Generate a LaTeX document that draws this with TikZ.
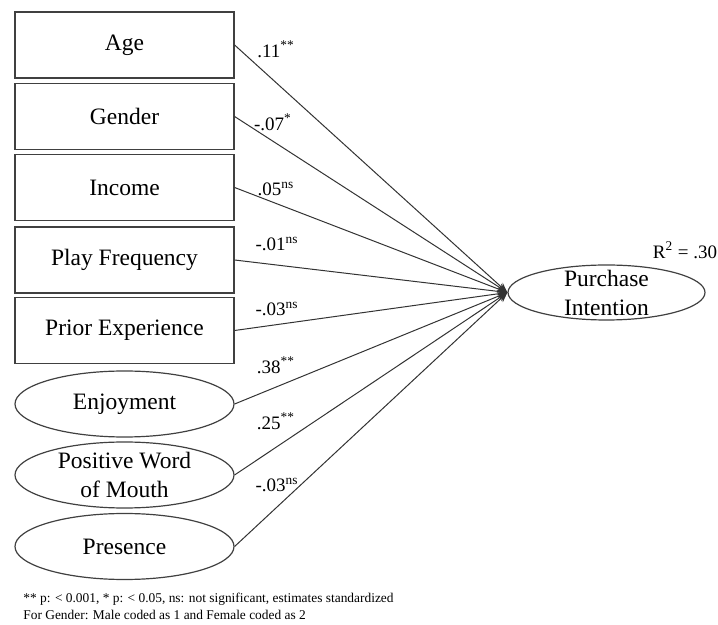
\documentclass[tikz,border=0pt]{standalone}
\usepackage{fontspec}
\setmainfont{Liberation Serif}
\usepackage{tikz}
\usetikzlibrary{shapes.geometric, arrows.meta}
\tikzstyle{observed} = [rectangle, draw=black!75, line width=0.6pt, minimum width=109.5pt, minimum height=33pt, inner sep=0pt, font=\fontsize{11.75}{14.5}\selectfont]
\tikzstyle{latent} = [ellipse, draw=black!75, line width=0.6pt, minimum width=109.5pt, minimum height=33pt, inner sep=0pt, inner ysep=-3pt, align=center, font=\fontsize{11.75}{14.5}\selectfont]
\tikzstyle{effect} = [draw=black!80, line width=0.5pt, -{Stealth[length=5pt,width=4pt]}]
\tikzstyle{coef} = [inner sep=0pt, font=\fontsize{9.5}{11}\selectfont]

\begin{document}
\begin{tikzpicture}[x=0.5pt, y=-0.5pt]
\useasboundingbox (0,0) rectangle (718,625);
\node [observed] (age) at (124.5, 45) {Age};
\node [observed] (gender) at (124.5, 116.5) {Gender};
\node [observed] (income) at (124.5, 187.5) {Income};
\node [observed] (play) at (124.5, 260) {Play Frequency};
\node [observed] (prior) at (124.5, 330.5) {Prior Experience};
\node [latent] (enjoy) at (124.5, 404) {Enjoyment};
\node [latent] (wom) at (124.5, 475) {Positive Word\\of Mouth};
\node [latent] (presence) at (124.5, 546.5) {Presence};
\node [latent, minimum width=98.5pt, minimum height=27.5pt] (pi) at (606.5, 292.5) {Purchase\\Intention};
\node [coef] (r2) at (685, 250) {R\textsuperscript{2} = .30};
\draw [effect] (age.east) -- (pi.west);
\draw [effect] (gender.east) -- (pi.west);
\draw [effect] (income.east) -- (pi.west);
\draw [effect] (play.east) -- (pi.west);
\draw [effect] (prior.east) -- (pi.west);
\draw [effect] (enjoy.east) -- (pi.west);
\draw [effect] (wom.east) -- (pi.west);
\draw [effect] (presence.east) -- (pi.west);
\node [coef] (c1) at (276, 49) {.11\textsuperscript{**}};
\node [coef] (c2) at (273, 122) {-.07\textsuperscript{*}};
\node [coef] (c3) at (276, 189) {.05\textsuperscript{ns}};
\node [coef] (c4) at (277, 244) {-.01\textsuperscript{ns}};
\node [coef] (c5) at (277, 309) {-.03\textsuperscript{ns}};
\node [coef] (c6) at (276, 365) {.38\textsuperscript{**}};
\node [coef] (c7) at (276, 421) {.25\textsuperscript{**}};
\node [coef] (c8) at (277, 485) {-.03\textsuperscript{ns}};
\node [anchor=north west, inner sep=0pt, align=left, font=\fontsize{6.7}{8.5}\selectfont] (note) at (23, 593) {** p: < 0.001, * p: < 0.05, ns: not significant, estimates standardized\\For Gender: Male coded as 1 and Female coded as 2};
\end{tikzpicture}
\end{document}
